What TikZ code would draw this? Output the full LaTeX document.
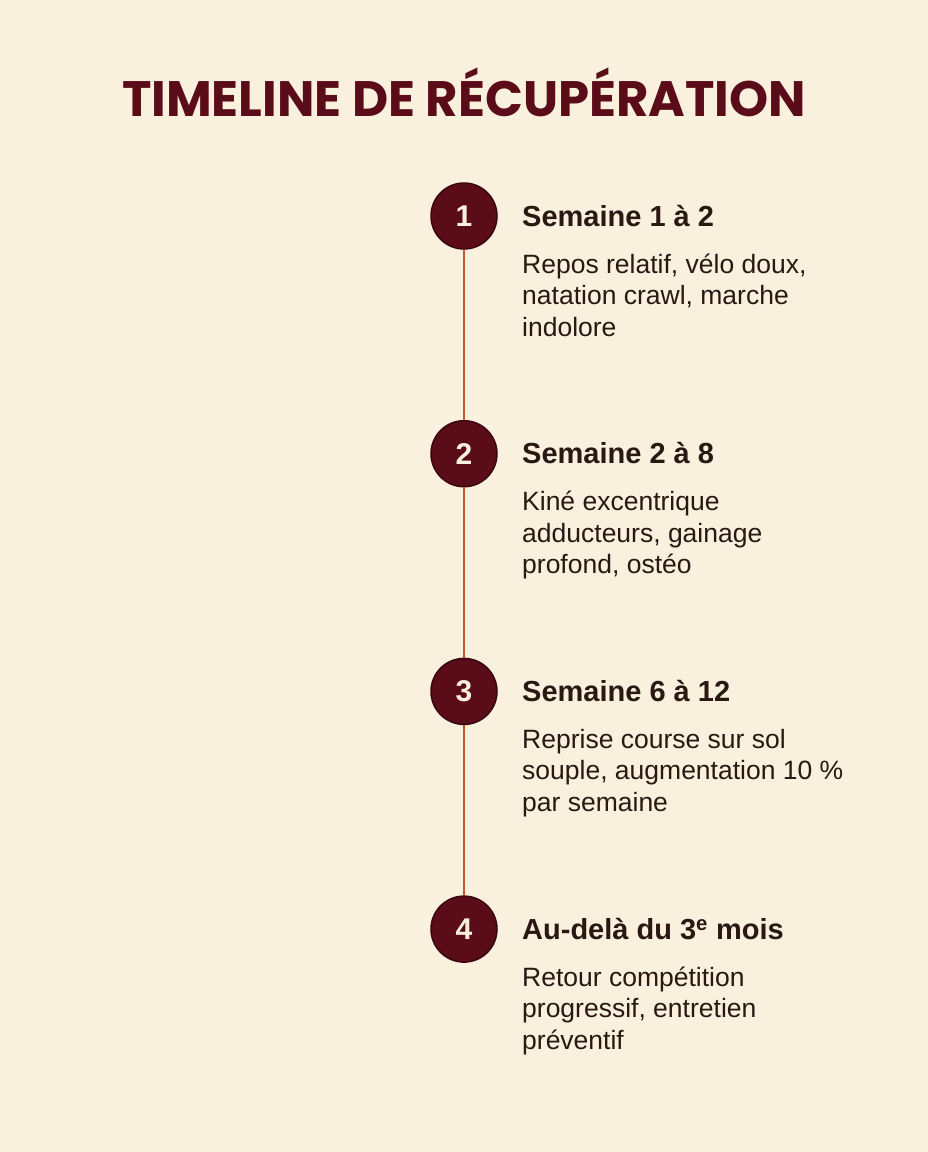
\documentclass[tikz,border=0pt]{standalone}
\usepackage{fontspec}
\setmainfont{Liberation Sans}
\newfontfamily\titlefont{Poppins}
\usetikzlibrary{positioning}
\definecolor{paper}{HTML}{FAF0DE}
\definecolor{wine}{HTML}{5A0C18}
\definecolor{winedark}{HTML}{3A0610}
\definecolor{rust}{HTML}{C4582C}
\definecolor{ink}{HTML}{2A1812}
\tikzset{
  stepdot/.style={circle, draw=winedark, line width=1.5pt, fill=wine, minimum size=66pt, inner sep=0pt,
    text=paper, font=\bfseries\fontsize{30}{30}\selectfont},
  stephead/.style={anchor=base west, inner sep=0pt, text=ink, font=\bfseries\fontsize{29}{29}\selectfont},
  stepbody/.style={anchor=base west, inner sep=0pt, text=ink, font=\fontsize{26.5}{31.5}\selectfont},
  link/.style={rust, line width=2.8pt}
}
\begin{document}
\begin{tikzpicture}[x=1pt,y=-1pt]
\def\gap{237.7}
\def\top{216}
\useasboundingbox[fill=paper] (0,0) rectangle (928,1152);
\node (title) [anchor=base, inner sep=0pt, text=wine] at (464,116)
  {\resizebox{684pt}{!}{\titlefont\bfseries\fontsize{50}{50}\selectfont TIMELINE DE RÉCUPÉRATION}};
\foreach \n/\head/\body in {
  1/{Semaine 1 à 2}/{Repos relatif, vélo doux,\\natation crawl, marche\\indolore},
  2/{Semaine 2 à 8}/{Kiné excentrique\\adducteurs, gainage\\profond, ostéo},
  3/{Semaine 6 à 12}/{Reprise course sur sol\\souple, augmentation 10 \%\\par semaine},
  4/{Au-delà du 3\textsuperscript{e} mois}/{Retour compétition\\progressif, entretien\\préventif}}{
  \node (c\n) [stepdot] at (464,\top+\gap*\n-\gap) {\n};
  \node (h\n) [stephead] at (522,\top+\gap*\n-\gap+10) {\head};
  \node (b\n) [stepbody] at (522,\top+\gap*\n-\gap+57) {\parbox[t]{400pt}{\raggedright\body}};
}
\foreach \a/\b in {1/2,2/3,3/4}
  \draw[link] (c\a.south) -- (c\b.north);
\end{tikzpicture}
\end{document}
